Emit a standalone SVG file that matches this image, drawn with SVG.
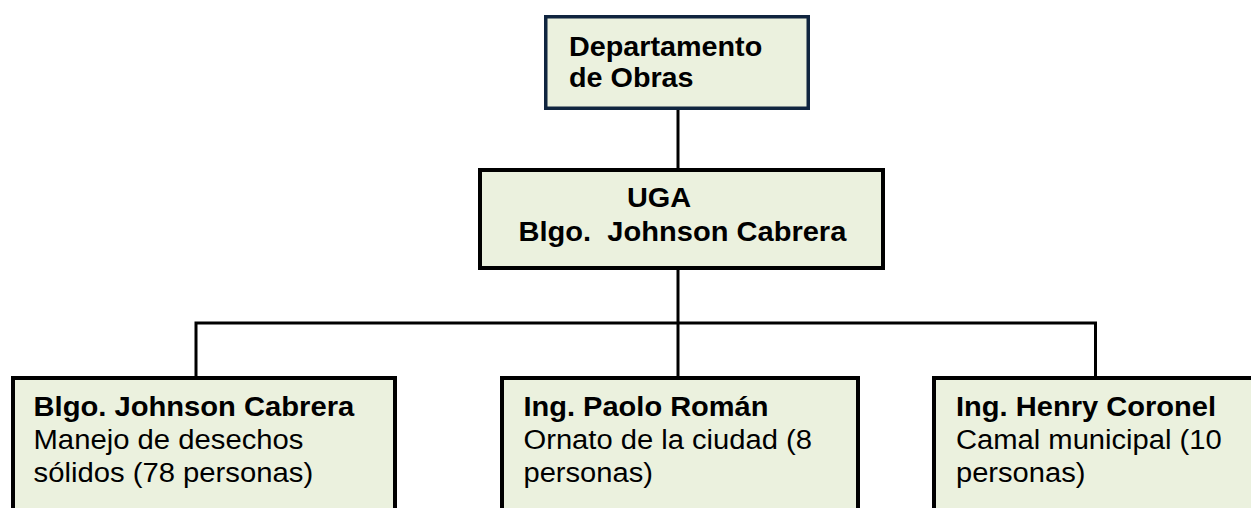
<svg xmlns="http://www.w3.org/2000/svg" width="1251" height="508" viewBox="0 0 1251 508">
<style>
.box{fill:#ebf1de;stroke:#000;stroke-width:4}
.top{fill:#ebf1de;stroke:#10253f;stroke-width:3.5}
.t{font-family:"Liberation Sans",Arial,sans-serif;fill:#000;font-size:27px}
.b{font-weight:bold}
.conn{stroke:#000;stroke-width:3;fill:none}
</style>
<rect width="1251" height="508" fill="#fff"/>
<g id="connectors">
<line class="conn" x1="678" y1="110" x2="678" y2="168"/>
<line class="conn" x1="678" y1="270" x2="678" y2="377"/>
<polyline class="conn" points="196,377 196,323 1095.5,323 1095.5,377"/>
</g>
<g id="node-departamento">
<rect class="top" x="545.75" y="16.75" width="262.5" height="91.5"/>
<text class="t b" transform="translate(569,55.5) scale(1.065,1)">Departamento</text>
<text class="t b" transform="translate(569,87) scale(1.065,1)">de Obras</text>
</g>
<g id="node-uga">
<rect class="box" x="480" y="170" width="403" height="98"/>
<text class="t b" transform="translate(627,207) scale(1.07,1)">UGA</text>
<text class="t b" xml:space="preserve" style="white-space:pre" transform="translate(518.5,240.5) scale(1.077,1)">Blgo.  Johnson Cabrera</text>
</g>
<g id="node-johnson">
<rect class="box" x="13" y="378" width="382" height="200"/>
<text class="t b" transform="translate(33.5,416) scale(1.08,1)">Blgo. Johnson Cabrera</text>
<text class="t" transform="translate(33.5,448.5) scale(1.084,1)">Manejo de desechos</text>
<text class="t" transform="translate(33.5,481.5) scale(1.084,1)">sólidos (78 personas)</text>
</g>
<g id="node-paolo">
<rect class="box" x="502" y="378" width="356" height="200"/>
<text class="t b" transform="translate(523.5,416) scale(1.075,1)">Ing. Paolo Román</text>
<text class="t" transform="translate(523.5,448.5) scale(1.08,1)">Ornato de la ciudad (8</text>
<text class="t" transform="translate(523.5,481.5) scale(1.078,1)">personas)</text>
</g>
<g id="node-henry">
<rect class="box" x="934" y="378" width="400" height="200"/>
<text class="t b" transform="translate(956,416) scale(1.077,1)">Ing. Henry Coronel</text>
<text class="t" transform="translate(956,448.5) scale(1.08,1)">Camal municipal (10</text>
<text class="t" transform="translate(956,481.5) scale(1.078,1)">personas)</text>
</g>
</svg>
